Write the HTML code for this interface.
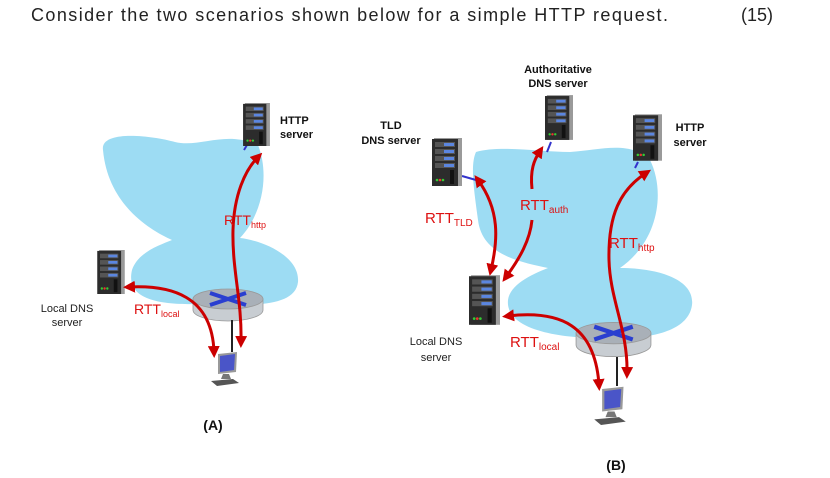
<!DOCTYPE html>
<html><head><meta charset="utf-8"><style>
html,body{margin:0;padding:0;background:#fff;}
svg{display:block;font-family:"Liberation Sans",Arial,sans-serif;}
</style></head><body>
<svg width="830" height="478" viewBox="0 0 830 478" xmlns="http://www.w3.org/2000/svg">
<defs>
<symbol id="srv" viewBox="0 0 30 48">
<rect x="2" y="0" width="28" height="48" fill="#9a9a9a"/>
<rect x="0" y="1" width="26" height="47" fill="#2c2c2c"/>
<rect x="3" y="4" width="20" height="5" fill="#555"/><rect x="12" y="5" width="10" height="3" fill="#5b86e0"/>
<rect x="3" y="11" width="20" height="5" fill="#555"/><rect x="12" y="12" width="10" height="3" fill="#5b86e0"/>
<rect x="3" y="18" width="20" height="5" fill="#555"/><rect x="12" y="19" width="10" height="3" fill="#5b86e0"/>
<rect x="3" y="25" width="20" height="5" fill="#555"/><rect x="12" y="26" width="10" height="3" fill="#5b86e0"/>
<rect x="18" y="32" width="4" height="14" fill="#111"/>
<circle cx="5" cy="42" r="1.3" fill="#3c3"/><circle cx="8" cy="42" r="1.3" fill="#e33"/><circle cx="11" cy="42" r="1.3" fill="#3c3"/>
</symbol>
<symbol id="rtr" viewBox="0 0 72 34">
<path d="M1 11 V22 A35 11 0 0 0 71 22 V11 Z" fill="#c8cdd2" stroke="#999" stroke-width="0.8"/>
<ellipse cx="36" cy="11" rx="35" ry="10" fill="#a9b0b8" stroke="#999" stroke-width="0.8"/>
<path d="M18 5 L54 17 M54 5 L18 17" stroke="#2a3fd0" stroke-width="4"/>
</symbol>
<symbol id="pc" viewBox="0 0 32 36">
<polygon points="9,2 28,0 27,20 9,22" fill="#999"/>
<polygon points="11,4 26,2 25,18 11,20" fill="#4a55c8"/>
<polygon points="14,22 20,22 22,27 12,27" fill="#777"/>
<polygon points="2,29 24,27 30,31 8,34" fill="#555"/>
</symbol>
<marker id="ah" viewBox="0 0 10 10" refX="5" refY="5" markerWidth="4" markerHeight="4" orient="auto-start-reverse">
<path d="M0 0 L10 5 L0 10 Z" fill="#c00"/></marker>
</defs>

<text x="31" y="21" font-size="18" fill="#222" textLength="637" lengthAdjust="spacing">Consider the two scenarios shown below for a simple HTTP request.</text>
<text x="741" y="21" font-size="18" fill="#222">(15)</text>

<!-- A clouds -->
<path d="M103 150 C100 130 150 135 175 142 C200 148 225 130 258 145 C270 175 262 215 240 238 C260 240 300 255 298 282 C295 310 240 305 200 304 C160 305 125 300 132 270 C138 252 160 245 172 240 C150 230 108 205 103 150 Z" fill="#9ddcf3"/>
<line x1="247" y1="145" x2="244" y2="150" stroke="#33c" stroke-width="2"/>
<use href="#srv" x="243" y="103" width="27" height="43"/>
<use href="#srv" x="97" y="250" width="28" height="44"/>
<use href="#rtr" x="192" y="288" width="72" height="34"/>
<line x1="232" y1="320" x2="232" y2="352" stroke="#222" stroke-width="2"/>
<use href="#pc" x="209" y="352" width="32" height="36"/>
<path d="M241 342 C242 300 232 270 233 230 C234 195 245 170 258 157" fill="none" stroke="#c00" stroke-width="3" marker-start="url(#ah)" marker-end="url(#ah)"/>
<path d="M129 287 C170 285 212 295 214 352" fill="none" stroke="#c00" stroke-width="3" marker-start="url(#ah)" marker-end="url(#ah)"/>
<text x="224" y="225" font-size="14" fill="#d11">RTT<tspan font-size="9" dy="3">http</tspan></text>
<text x="134" y="314" font-size="14" fill="#d11">RTT<tspan font-size="9" dy="3">local</tspan></text>
<text x="280" y="124" font-size="11" font-weight="bold" fill="#111">HTTP</text>
<text x="280" y="138" font-size="11" font-weight="bold" fill="#111">server</text>
<text x="67" y="312" font-size="11" fill="#222" text-anchor="middle">Local DNS</text>
<text x="67" y="326" font-size="11" fill="#222" text-anchor="middle">server</text>
<text x="213" y="430" font-size="14" font-weight="bold" fill="#111" text-anchor="middle">(A)</text>

<!-- B clouds -->
<path d="M476 152 C500 145 540 152 570 152 C600 150 630 140 650 160 C665 190 660 240 620 268 C660 268 695 280 692 305 C688 335 640 340 600 338 C560 338 505 330 508 300 C510 285 530 275 548 268 C520 262 482 255 478 220 C474 190 470 165 476 152 Z" fill="#9ddcf3"/>
<line x1="462" y1="176" x2="476" y2="180" stroke="#33c" stroke-width="2"/>
<line x1="551" y1="142" x2="547" y2="152" stroke="#33c" stroke-width="2"/>
<line x1="638" y1="162" x2="635" y2="168" stroke="#33c" stroke-width="2"/>
<use href="#srv" x="545" y="93" width="28" height="49"/>
<use href="#srv" x="432" y="137" width="30" height="50"/>
<use href="#srv" x="633" y="113" width="29" height="49"/>
<use href="#srv" x="469" y="275" width="31" height="50"/>
<use href="#rtr" x="575" y="321" width="77" height="37"/>
<line x1="617" y1="357" x2="617" y2="386" stroke="#222" stroke-width="2"/>
<use href="#pc" x="592" y="386" width="36" height="42"/>
<path d="M478 180 C500 210 498 240 491 270" fill="none" stroke="#c00" stroke-width="3" marker-start="url(#ah)" marker-end="url(#ah)"/>
<path d="M532 189 C530 170 534 160 540 151" fill="none" stroke="#c00" stroke-width="3" marker-end="url(#ah)"/>
<path d="M532 220 C530 240 520 258 506 277" fill="none" stroke="#c00" stroke-width="3" marker-end="url(#ah)"/>
<path d="M627 373 C628 330 610 300 609 260 C608 215 620 190 646 173" fill="none" stroke="#c00" stroke-width="3" marker-start="url(#ah)" marker-end="url(#ah)"/>
<path d="M508 316 C560 310 595 325 599 385" fill="none" stroke="#c00" stroke-width="3" marker-start="url(#ah)" marker-end="url(#ah)"/>
<text x="425" y="223" font-size="15" fill="#d11">RTT<tspan font-size="10" dy="3">TLD</tspan></text>
<text x="520" y="210" font-size="15" fill="#d11">RTT<tspan font-size="10" dy="3">auth</tspan></text>
<text x="609" y="248" font-size="15" fill="#d11">RTT<tspan font-size="10" dy="3">http</tspan></text>
<text x="510" y="347" font-size="15" fill="#d11">RTT<tspan font-size="10" dy="3">local</tspan></text>
<text x="558" y="73" font-size="11" font-weight="bold" fill="#111" text-anchor="middle">Authoritative</text>
<text x="558" y="87" font-size="11" font-weight="bold" fill="#111" text-anchor="middle">DNS server</text>
<text x="391" y="129" font-size="11" font-weight="bold" fill="#111" text-anchor="middle">TLD</text>
<text x="391" y="144" font-size="11" font-weight="bold" fill="#111" text-anchor="middle">DNS server</text>
<text x="690" y="131" font-size="11" font-weight="bold" fill="#111" text-anchor="middle">HTTP</text>
<text x="690" y="146" font-size="11" font-weight="bold" fill="#111" text-anchor="middle">server</text>
<text x="436" y="345" font-size="11" fill="#222" text-anchor="middle">Local DNS</text>
<text x="436" y="361" font-size="11" fill="#222" text-anchor="middle">server</text>
<text x="616" y="470" font-size="14" font-weight="bold" fill="#111" text-anchor="middle">(B)</text>
</svg>
</body></html>
